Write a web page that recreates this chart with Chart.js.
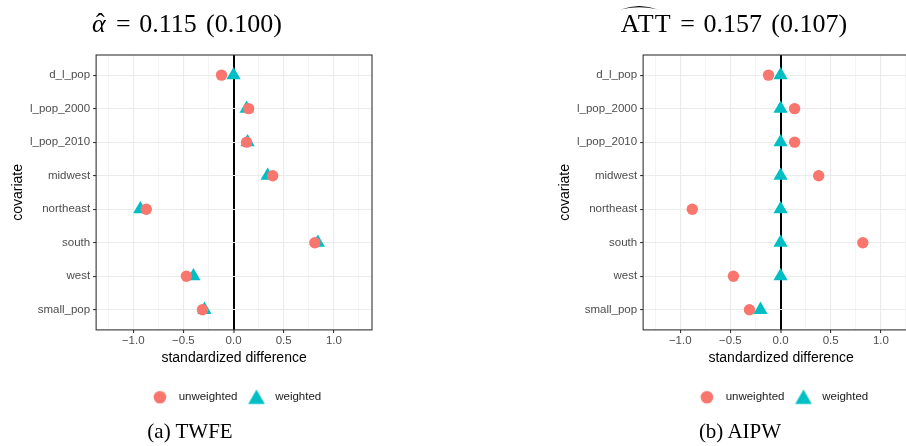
<!DOCTYPE html>
<html>
<head>
<meta charset="utf-8">
<script src="https://cdn.jsdelivr.net/npm/chart.js@4"></script>
<style>
  html, body { margin: 0; padding: 0; background: #fff; width: 906px; height: 446px; overflow: hidden; position: relative; }
  .panel { position: absolute; top: 0; width: 390px; height: 424px; }
  .title { position: absolute; top: 11px; font-family: "Liberation Serif", "Times New Roman", serif; font-size: 26px; line-height: 25px; white-space: nowrap; transform: translateX(-50%); color: #000; }
  .title .eq { margin: 0 0.33em; }
  .title .gap { display: inline-block; width: 0.36em; }
  .cap { position: absolute; top: 421px; font-family: "Liberation Serif", "Times New Roman", serif; font-size: 21px; line-height: 21px; white-space: nowrap; transform: translateX(-50%); color: #000; }
  .ah { position: relative; font-style: italic; padding-right: 0.06em; }
  .ah .hm { position: absolute; left: 0.15em; top: 0.03em; font-style: normal; }
  .wh { position: relative; display: inline-block; letter-spacing: 0.04em; }
  .wh svg { position: absolute; left: 0; top: -7px; }
</style>
</head>
<body>
<div class="panel" style="left:0px"><canvas id="twfe"></canvas></div>
<div class="panel" style="left:547px"><canvas id="aipw"></canvas></div>

<div class="title" style="left:187px"><span class="ah">α<span class="hm">ˆ</span></span><span class="eq">=</span>0.115<span class="gap"></span>(0.100)</div>
<div class="title" style="left:734px"><span class="wh">ATT<svg width="37" height="6" viewBox="0 0 37 6"><path d="M0 5.5 Q18.5 -1.5 37 5.5 Q18.5 1.2 0 5.5Z" fill="#000"/></svg></span><span class="eq">=</span>0.157<span class="gap"></span>(0.107)</div>

<div class="cap" style="left:190px">(a) TWFE</div>
<div class="cap" style="left:740px">(b) AIPW</div>

<script>
// Datos
const covariates = ["d_l_pop", "l_pop_2000", "l_pop_2010", "midwest", "northeast", "south", "west", "small_pop"];
const twfeUnweighted = [-0.12, 0.15, 0.13, 0.39, -0.87, 0.81, -0.47, -0.31];
const twfeWeighted   = [0.00, 0.13, 0.14, 0.34, -0.93, 0.84, -0.40, -0.29];
const aipwUnweighted = [-0.12, 0.14, 0.14, 0.38, -0.88, 0.82, -0.47, -0.31];
const aipwWeighted   = [0.00, 0.00, 0.00, 0.00, 0.00, 0.00, 0.00, -0.20];
const xTicks = [-1.25, -1.0, -0.75, -0.5, -0.25, 0, 0.25, 0.5, 0.75, 1.0, 1.25];
const xMajor = [-1.0, -0.5, 0, 0.5, 1.0];
const xLimits = [-1.37, 1.38];
const seriesNames = ["unweighted", "weighted"];

const RED = "#F8766D";
const CYAN = "#00BFC4";

Chart.defaults.font.family = '"Liberation Sans", Arial, sans-serif';
Chart.defaults.color = "#4D4D4D";

const isMajor = v => xMajor.some(m => Math.abs(m - v) < 1e-9);
const fmt = v => (v < 0 ? "\u2212" + Math.abs(v).toFixed(1) : v.toFixed(1));

// iconos de la leyenda
function legendIcon(kind) {
  const c = document.createElement("canvas");
  c.width = 20; c.height = 20;
  const g = c.getContext("2d");
  if (kind === "circle") {
    g.fillStyle = RED;
    g.beginPath(); g.arc(10, 10, 6.3, 0, Math.PI * 2); g.fill();
  } else {
    g.fillStyle = CYAN;
    const r = 9.6;
    g.beginPath();
    g.moveTo(10, 10 - r * 0.75 - 0.5);
    g.lineTo(10 + r * Math.sqrt(3) / 2, 10 + r * 0.75 - 0.5);
    g.lineTo(10 - r * Math.sqrt(3) / 2, 10 + r * 0.75 - 0.5);
    g.closePath(); g.fill();
  }
  return c;
}
const icons = [legendIcon("circle"), legendIcon("triangle")];

const panelBorder = {
  id: "panelBorder",
  afterDraw(chart) {
    const { ctx, chartArea: a } = chart;
    ctx.save();
    ctx.strokeStyle = "#333333";
    ctx.lineWidth = 1.1;
    ctx.strokeRect(a.left, a.top, a.right - a.left, a.bottom - a.top);
    ctx.restore();
  }
};

function makeChart(id, unweighted, weighted) {
  const ctx = document.getElementById(id).getContext("2d");
  return new Chart(ctx, {
    type: "scatter",
    data: {
      datasets: [
        {
          label: seriesNames[0],
          data: unweighted.map((v, i) => ({ x: v, y: i + 1 })),
          pointStyle: "circle",
          pointRadius: 5.7,
          backgroundColor: RED,
          borderWidth: 0
        },
        {
          label: seriesNames[1],
          data: weighted.map((v, i) => ({ x: v, y: i + 1 })),
          pointStyle: "triangle",
          pointRadius: 8.2,
          backgroundColor: CYAN,
          borderWidth: 0
        }
      ]
    },
    options: {
      responsive: false,
      animation: false,
      events: [],
      layout: { padding: { left: 11, right: 18, top: 55, bottom: 11 } },
      scales: {
        x: {
          type: "linear",
          min: xLimits[0],
          max: xLimits[1],
          afterBuildTicks: s => { s.ticks = xTicks.map(v => ({ value: v })); },
          ticks: {
            autoSkip: false,
            maxRotation: 0,
            padding: 1,
            font: { size: 11.5 },
            color: "#4D4D4D",
            callback: v => (isMajor(v) ? fmt(v) : "")
          },
          grid: {
            color: c => (c.tick && Math.abs(c.tick.value) < 1e-9 ? "#000000" : "#EBEBEB"),
            lineWidth: c => (c.tick && Math.abs(c.tick.value) < 1e-9 ? 2 : (c.tick && isMajor(c.tick.value) ? 1.1 : 0.55)),
            tickLength: 3,
            tickWidth: 1.1,
            tickColor: c => (c.tick && isMajor(c.tick.value) ? "#333333" : "rgba(0,0,0,0)")
          },
          border: { display: false },
          title: {
            display: true,
            text: "standardized difference",
            color: "#000",
            font: { size: 14, lineHeight: 1.2 },
            padding: { top: 1, bottom: 19 }
          }
        },
        y: {
          type: "linear",
          reverse: true,
          min: 0.4,
          max: 8.6,
          afterBuildTicks: s => { s.ticks = covariates.map((_, i) => ({ value: i + 1 })); },
          ticks: {
            autoSkip: false,
            padding: 3,
            font: { size: 11.5 },
            color: "#4D4D4D",
            callback: v => covariates[v - 1]
          },
          grid: {
            color: "#EBEBEB",
            lineWidth: 1.1,
            tickLength: 3,
            tickWidth: 1.1,
            tickColor: "#333333"
          },
          border: { display: false },
          title: {
            display: true,
            text: "covariate",
            color: "#000",
            font: { size: 14, lineHeight: 1 },
            padding: { top: 0, bottom: 2 }
          }
        }
      },
      plugins: {
        tooltip: { enabled: false },
        legend: {
          position: "bottom",
          fullSize: false,
          labels: {
            usePointStyle: true,
            pointStyleWidth: 26,
            padding: 6,
            color: "#1A1A1A",
            font: { size: 11.5 },
            generateLabels: chart => {
              const items = Chart.defaults.plugins.legend.labels.generateLabels(chart);
              items.forEach((it, i) => { it.pointStyle = icons[i]; });
              return items;
            }
          }
        }
      }
    },
    plugins: [panelBorder]
  });
}

function sizeCanvas(id) {
  const c = document.getElementById(id);
  c.width = 390; c.height = 424;
  c.style.width = "390px"; c.style.height = "424px";
}
sizeCanvas("twfe");
sizeCanvas("aipw");

makeChart("twfe", twfeUnweighted, twfeWeighted);
makeChart("aipw", aipwUnweighted, aipwWeighted);
</script>
</body>
</html>
